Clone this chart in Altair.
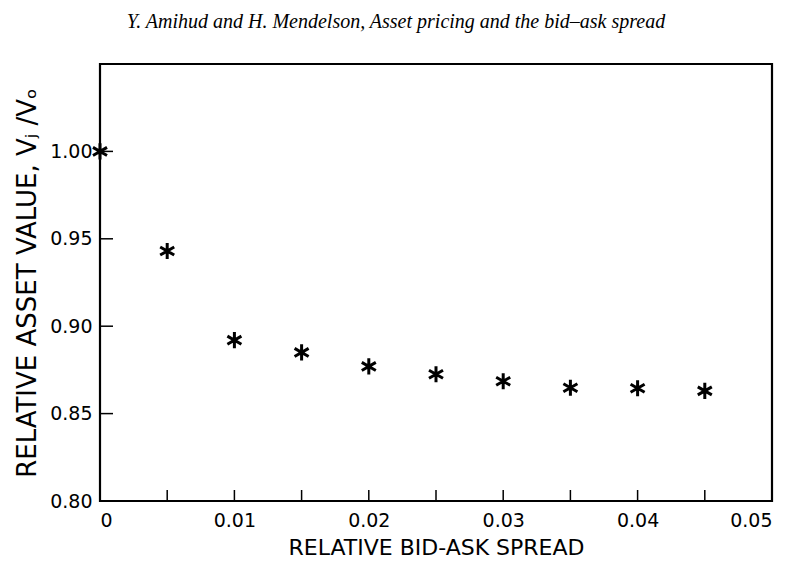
import altair as alt
import pandas as pd

# Data
spread = [0.0, 0.005, 0.01, 0.015, 0.02, 0.025, 0.03, 0.035, 0.04, 0.045]
value = [1.000, 0.943, 0.892, 0.885, 0.877, 0.8725, 0.8685, 0.8648, 0.8645, 0.863]

x_ticks = [0.005, 0.01, 0.015, 0.02, 0.025, 0.03, 0.035, 0.04, 0.045]
x_labels = [0, 0.01, 0.02, 0.03, 0.04, 0.05]
y_ticks = [0.85, 0.90, 0.95, 1.00]
y_labels = [0.80, 0.85, 0.90, 0.95, 1.00]

df = pd.DataFrame({"spread": spread, "value": value})
dfx = pd.DataFrame({"t": x_ticks})
dfy = pd.DataFrame({"t": y_ticks})

W, H = 672, 437
FONT = "DejaVu Sans"

xscale = alt.Scale(domain=[0, 0.05], nice=False, zero=False)
yscale = alt.Scale(domain=[0.80, 1.05], nice=False, zero=False)

asterisk = "M0,-1L0,1M-0.87,-0.5L0.87,0.5M-0.87,0.5L0.87,-0.5"

points = alt.Chart(df).mark_point(
    shape=asterisk, filled=False, stroke="black", strokeWidth=3, size=260, opacity=1
).encode(
    x=alt.X("spread:Q", scale=xscale,
            axis=alt.Axis(values=x_labels, ticks=False, domain=False, grid=False,
                          labelExpr="datum.value == 0 ? '0' : format(datum.value, '.2f')",
                          labelFont=FONT, labelFontSize=19, labelColor="black", labelPadding=10,
                          title="RELATIVE BID-ASK SPREAD", titleFont=FONT, titleFontSize=22,
                          titleFontWeight="normal", titleColor="black", titlePadding=7)),
    y=alt.Y("value:Q", scale=yscale,
            axis=alt.Axis(values=y_labels, format=".2f", ticks=False, domain=False, grid=False,
                          labelFont=FONT, labelFontSize=19, labelColor="black", labelPadding=8,
                          title="RELATIVE ASSET VALUE, Vⱼ /Vₒ", titleFont=FONT, titleFontSize=26,
                          titleFontWeight="normal", titleColor="black", titlePadding=9)),
)

xt = alt.Chart(dfx).mark_rule(color="black", strokeWidth=1.5).encode(
    x=alt.X("t:Q", scale=xscale),
    y=alt.value(H),
    y2=alt.value(H - 11),
)

yt = alt.Chart(dfy).mark_rule(color="black", strokeWidth=1.5).encode(
    y=alt.Y("t:Q", scale=yscale),
    x=alt.value(0),
    x2=alt.value(13),
)

chart = alt.layer(xt, yt, points).properties(
    width=W,
    height=H,
    autosize=alt.AutoSizeParams(type="none"),
    padding={"left": 92, "top": 56, "right": 17, "bottom": 60},
    title=alt.TitleParams(
        "Y. Amihud and H. Mendelson, Asset pricing and the bid–ask spread",
        font="Liberation Serif", fontStyle="italic", fontSize=20, fontWeight="normal",
        color="black", anchor="middle", dx=-40, offset=32,
    ),
).configure(
    background="white",
    view=alt.ViewConfig(stroke="black", strokeWidth=2.2),
)

chart.save("out.html", embed_options={"renderer": "svg", "actions": False})
